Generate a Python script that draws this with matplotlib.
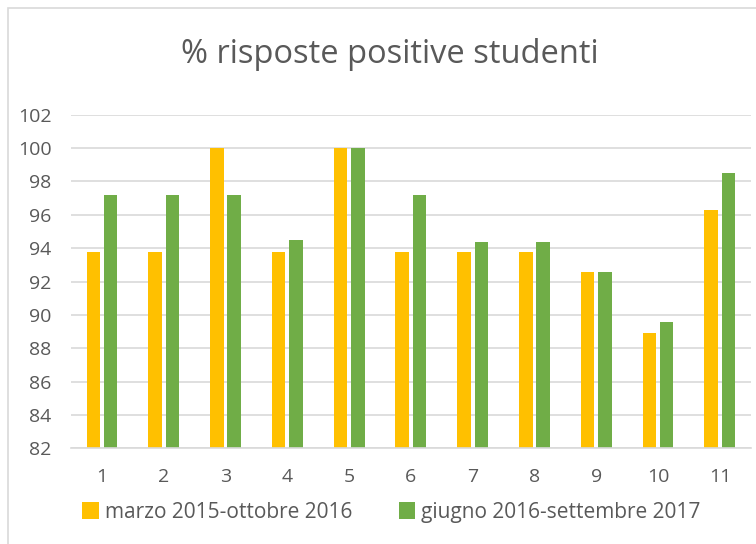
import numpy as np
import matplotlib.pyplot as plt
from matplotlib.patches import Rectangle

categories = ['1', '2', '3', '4', '5', '6', '7', '8', '9', '10', '11']
serie_1 = [93.8, 93.8, 100, 93.8, 100, 93.8, 93.8, 93.8, 92.6, 88.9, 96.3]
serie_2 = [97.2, 97.2, 97.2, 94.5, 100, 97.2, 94.4, 94.4, 92.6, 89.6, 98.5]
label_1 = 'marzo 2015-ottobre 2016'
label_2 = 'giugno 2016-settembre 2017'
yticks = list(range(82, 103, 2))

plt.rcParams['font.family'] = ['Open Sans', 'DejaVu Sans']
txt = '#595959'

fig = plt.figure(figsize=(7.56, 5.44), dpi=100)
fig.patches.append(Rectangle((8/756, -0.1), 2, 1.1 - 8/544, transform=fig.transFigure,
                             fill=False, edgecolor='#d9d9d9', lw=1.2))
ax = fig.add_axes([0.094, 0.176, 0.899, 0.613])

x = np.arange(len(categories))
w = 0.22
ax.bar(x - 0.14, serie_1, w, color='#FFC000', label=label_1, zorder=2)
ax.bar(x + 0.14, serie_2, w, color='#70AD47', label=label_2, zorder=2)

ax.set_ylim(82, 102)
ax.set_xlim(-0.5, len(categories) - 0.5)
ax.set_yticks(yticks)
ax.set_xticks(x, categories)
ax.yaxis.grid(True, color='#d9d9d9', lw=1.2, zorder=0)
for s in ['top', 'right', 'left']:
    ax.spines[s].set_visible(False)
ax.spines['bottom'].set_color('#d9d9d9')
ax.spines['bottom'].set_linewidth(1.2)
ax.tick_params(length=0, labelsize=14, colors=txt, pad=14)
ax.tick_params(axis='y', pad=14)

fig.text(0.515, 0.9, '% risposte positive studenti', ha='center', va='center',
         fontsize=23.5, color=txt)
fig.legend(loc='center', bbox_to_anchor=(0.518, 0.058), ncol=2, frameon=False,
           fontsize=15, labelcolor=txt, handlelength=0.8, handleheight=0.9,
           handletextpad=0.3, columnspacing=2.2)

fig.savefig('out.png', dpi=100)
